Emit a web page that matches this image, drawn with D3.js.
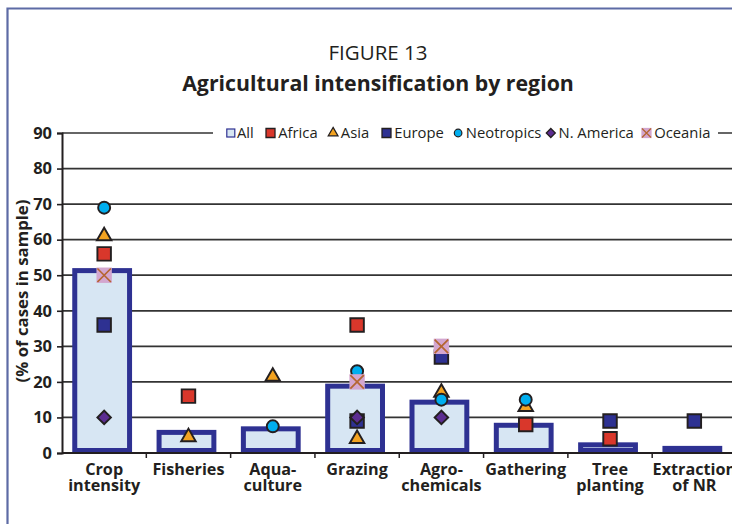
<!DOCTYPE html>
<html>
<head>
<style>
  body { margin: 0; background: #fff; }
  text { font-family: "Open Sans", "Noto Sans", sans-serif; fill: #231f20; }
</style>
</head>
<body>
<svg id="chart" width="732" height="524"></svg>
<script src="https://d3js.org/d3.v7.min.js"></script>
<script>
  // categories and their two-line labels
  const categories = ['Crop intensity', 'Fisheries', 'Aquaculture', 'Grazing',
    'Agrochemicals', 'Gathering', 'Tree planting', 'Extraction of NR']
  const categoryLines = [['Crop', 'intensity'], ['Fisheries'], ['Aqua-', 'culture'], ['Grazing'],
    ['Agro-', 'chemicals'], ['Gathering'], ['Tree', 'planting'], ['Extraction', 'of NR']]

  // % of cases in sample
  const allValues  = [52, 6.5, 7.5, 19.5, 15, 8.5, 3, 2]
  const africa     = [56, 16, null, 36, null, 8, 4, null]
  const asia       = [61, 4.5, 21.5, 4, 17, 13, null, null]
  const europe     = [36, null, null, 9, 27, null, 9, 9]
  const neotropics = [69, null, 7.5, 23, 15, 15, null, null]
  const nAmerica   = [10, null, null, 10, 10, null, null, null]
  const oceania    = [50, null, null, 20, 30, null, null, null]

  const yTicks = [0, 10, 20, 30, 40, 50, 60, 70, 80, 90]

  const series = [
    { name: 'Africa', values: africa, shape: 'square', fill: '#d9372b' },
    { name: 'Asia', values: asia, shape: 'triangle', fill: '#f3a321' },
    { name: 'Europe', values: europe, shape: 'square', fill: '#2e3192' },
    { name: 'Neotropics', values: neotropics, shape: 'circle', fill: '#00aeef' },
    { name: 'N. America', values: nAmerica, shape: 'diamond', fill: '#5c2d91' },
    { name: 'Oceania', values: oceania, shape: 'cross', fill: '#d3a6cf' }
  ]

  const svg = d3.select('#chart')

  // frame
  svg.append('path')
    .attr('d', 'M7.5,524 V8.5 H732')
    .attr('fill', 'none')
    .attr('stroke', '#5d6ba5')
    .attr('stroke-width', 2.2)

  // titles
  svg.append('text')
    .attr('x', 378).attr('y', 60)
    .attr('text-anchor', 'middle')
    .style('font-size', '20.5px')
    .text('FIGURE 13')
  svg.append('text')
    .attr('x', 378).attr('y', 91)
    .attr('text-anchor', 'middle')
    .style('font-size', '21.3px')
    .style('font-weight', 'bold')
    .text('Agricultural intensification by region')

  const x = d3.scaleBand().domain(categories).range([62, 736.5])
  const y = d3.scaleLinear().domain([0, 90]).range([453, 133])

  // gridlines
  svg.append('g')
    .selectAll('line')
    .data(yTicks.filter(d => d > 0))
    .join('line')
    .attr('x1', 62).attr('x2', 732)
    .attr('y1', d => y(d)).attr('y2', d => y(d))
    .attr('stroke', '#333')
    .attr('stroke-width', 1.7)

  // y axis
  const yAxis = svg.append('g')
    .attr('transform', 'translate(62,0)')
    .call(d3.axisLeft(y).tickValues(yTicks).tickSize(5).tickPadding(5))
  yAxis.select('.domain').attr('stroke', '#231f20').attr('stroke-width', 2)
  yAxis.selectAll('.tick line').attr('stroke', '#231f20').attr('stroke-width', 1.6)
  yAxis.selectAll('.tick text')
    .style('font-family', '"Open Sans", sans-serif')
    .style('font-size', '16.5px')
    .style('font-weight', 'bold')
    .attr('fill', '#231f20')

  svg.append('text')
    .attr('transform', 'translate(28,291) rotate(-90)')
    .attr('text-anchor', 'middle')
    .style('font-size', '16.8px')
    .style('font-weight', 'bold')
    .text('(% of cases in sample)')

  // bars for "All"
  const barW = x.bandwidth() * 0.65
  const sw = 5
  svg.append('g')
    .selectAll('rect')
    .data(allValues)
    .join('rect')
    .attr('x', (d, i) => x(categories[i]) + (x.bandwidth() - barW) / 2 - 2)
    .attr('y', d => y(d) + sw / 2)
    .attr('width', barW)
    .attr('height', d => Math.max(0.5, y(0) - y(d) - sw))
    .attr('fill', '#d7e6f3')
    .attr('stroke', '#2e3192')
    .attr('stroke-width', sw)

  // x axis
  svg.append('line')
    .attr('x1', 62).attr('x2', 732)
    .attr('y1', y(0)).attr('y2', y(0))
    .attr('stroke', '#231f20').attr('stroke-width', 2)
  svg.append('g')
    .selectAll('line')
    .data(categories.slice(1))
    .join('line')
    .attr('x1', d => x(d)).attr('x2', d => x(d))
    .attr('y1', y(0)).attr('y2', y(0) + 5)
    .attr('stroke', '#231f20').attr('stroke-width', 1.5)

  // category labels, one text per line
  const labelLines = []
  categories.forEach((c, i) => categoryLines[i].forEach((t, j) => labelLines.push({ c, t, j })))
  svg.append('g')
    .selectAll('text')
    .data(labelLines)
    .join('text')
    .attr('x', d => x(d.c) + x.bandwidth() / 2)
    .attr('y', d => 475 + d.j * 15.6)
    .attr('text-anchor', 'middle')
    .style('font-size', '16.2px')
    .style('font-weight', 'bold')
    .text(d => d.t)

  // marker drawing
  function drawMarker(g, shape, fill, s) {
    if (shape === 'cross') {
      g.append('rect')
        .attr('x', -s * 0.57).attr('y', -s * 0.57)
        .attr('width', s * 1.14).attr('height', s * 1.14)
        .attr('fill', fill)
      g.append('path')
        .attr('d', `M${-s * 0.5},${-s * 0.5}L${s * 0.5},${s * 0.5}M${-s * 0.5},${s * 0.5}L${s * 0.5},${-s * 0.5}`)
        .attr('stroke', '#b5652f')
        .attr('stroke-width', Math.max(1.2, s / 8))
      return
    }
    const sym = {
      square: [d3.symbolSquare, s * s, 0],
      triangle: [d3.symbolTriangle, s * s * 0.5, 0],
      circle: [d3.symbolCircle, s * s * 0.62, 0],
      diamond: [d3.symbolSquare, s * s * 0.5, 45]
    }[shape]
    g.append('path')
      .attr('d', d3.symbol().type(sym[0]).size(sym[1])())
      .attr('transform', `rotate(${sym[2]})`)
      .attr('fill', fill)
      .attr('stroke', '#231f20')
      .attr('stroke-width', Math.max(1.2, s / 7))
  }

  series.forEach(s => {
    const g = svg.append('g')
    s.values.forEach((v, i) => {
      if (v == null) return
      const m = g.append('g')
        .attr('transform', `translate(${x(categories[i]) + x.bandwidth() / 2},${y(v)})`)
      drawMarker(m, s.shape, s.fill, 13.5)
    })
  })

  // legend
  const legend = svg.append('g')
  legend.append('rect')
    .attr('x', 213).attr('y', y(90) - 8).attr('width', 505).attr('height', 16)
    .attr('fill', '#fff')
  const items = [{ name: 'All', shape: 'bar' }].concat(series)
  const legendX = [226, 265.7, 328.3, 381.7, 453.3, 546, 641.7]
  items.forEach((it, i) => {
    const lx = legendX[i]
    const g = legend.append('g').attr('transform', `translate(${lx + 4.8},${y(90)})`)
    if (it.shape === 'bar') {
      g.append('rect')
        .attr('x', -4).attr('y', -4).attr('width', 8).attr('height', 8)
        .attr('fill', '#d7e6f3').attr('stroke', '#2e3192').attr('stroke-width', 1.2)
    } else {
      drawMarker(g, it.shape, it.fill, it.shape === 'circle' ? 8.5 : 9)
    }
    legend.append('text')
      .attr('x', lx + (it.shape === 'bar' ? 11 : 12.5)).attr('y', y(90) + 5.2)
      .style('font-size', '14.8px')
      .text(it.name)
  })
</script>
</body>
</html>
